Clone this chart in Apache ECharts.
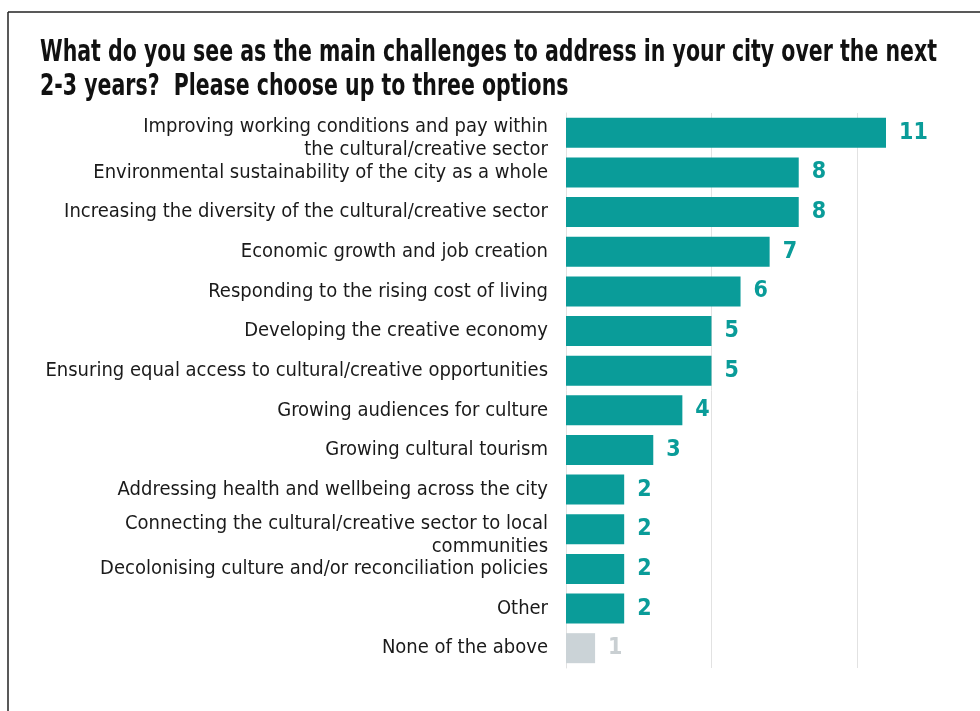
<!DOCTYPE html>
<html>
<head>
<meta charset="utf-8">
<script src="https://cdn.jsdelivr.net/npm/echarts@6/dist/echarts.min.js"></script>
<style>
  html, body { margin: 0; padding: 0; background: #ffffff; }
  #chart { width: 980px; height: 711px; }
</style>
</head>
<body>
<div id="chart"></div>
<script>
// Survey answers, top to bottom
const categories = [
  'Improving working conditions and pay within\nthe cultural/creative sector',
  'Environmental sustainability of the city as a whole',
  'Increasing the diversity of the cultural/creative sector',
  'Economic growth and job creation',
  'Responding to the rising cost of living',
  'Developing the creative economy',
  'Ensuring equal access to cultural/creative opportunities',
  'Growing audiences for culture',
  'Growing cultural tourism',
  'Addressing health and wellbeing across the city',
  'Connecting the cultural/creative sector to local\ncommunities',
  'Decolonising culture and/or reconciliation policies',
  'Other',
  'None of the above'
];
const responses = [11, 8, 8, 7, 6, 5, 5, 4, 3, 2, 2, 2, 2, 1];
// Answers drawn in the muted grey
const mutedCategories = ['None of the above'];
const gridValues = [5, 10];
const titleText = 'What do you see as the main challenges to address in your city over the next\n2-3 years?  Please choose up to three options';

const TEAL = '#0a9c99';
const GREY_BAR = '#cbd3d7';
const GREY_LABEL = '#c9cfd2';
const FONT = "'DejaVu Sans Condensed', 'Liberation Sans', sans-serif";

// Heading is set in a heavy face and squeezed horizontally to a condensed width
const TITLE_FONT = "bold 30px 'DejaVu Sans Condensed', 'Liberation Sans', sans-serif";
const TITLE_WIDTH = 897;
const measureCtx = document.createElement('canvas').getContext('2d');
measureCtx.font = TITLE_FONT;
const titleScale = TITLE_WIDTH / measureCtx.measureText(titleText.split('\n')[0]).width;

const chart = echarts.init(document.getElementById('chart'));

const barData = categories.map((c, i) => {
  const muted = mutedCategories.includes(c);
  return {
    value: responses[i],
    itemStyle: { color: muted ? GREY_BAR : TEAL },
    label: { color: muted ? GREY_LABEL : TEAL }
  };
});

// Labels use half-height rows: single lines stay centred on the bar,
// two-line answers get a spacer row on top and between lines so they
// sit a little below the bar centre with a full line of spacing.
const formatAxisLabel = (v) => v.includes('\n')
  ? '\n' + v.replace('\n', '\n\n')
  : v;

chart.setOption({
  animation: false,
  graphic: [
    { type: 'line', shape: { x1: 8, y1: 12, x2: 980, y2: 12 }, style: { stroke: '#222222', lineWidth: 1.5 } },
    { type: 'line', shape: { x1: 8, y1: 12, x2: 8, y2: 711 }, style: { stroke: '#222222', lineWidth: 1.5 } },
    {
      type: 'text',
      x: 40,
      y: 36,
      scaleX: titleScale,
      style: {
        text: titleText,
        font: TITLE_FONT,
        lineHeight: 34,
        fill: '#111111'
      }
    }
  ],
  grid: { left: 566, right: 94, top: 113, bottom: 43, containLabel: false },
  xAxis: {
    type: 'value',
    min: 0,
    max: 11,
    axisLine: { show: false },
    axisTick: { show: false },
    axisLabel: { show: false },
    splitLine: { show: false }
  },
  yAxis: {
    type: 'category',
    inverse: true,
    data: categories,
    axisLine: { show: true, lineStyle: { color: '#e2e2e2', width: 1 } },
    axisTick: { show: false },
    axisLabel: {
      interval: 0,
      showMinLabel: true,
      showMaxLabel: true,
      hideOverlap: false,
      margin: 18,
      fontFamily: FONT,
      fontSize: 20,
      lineHeight: 11.5,
      color: '#1a1a1a',
      align: 'right',
      formatter: formatAxisLabel
    }
  },
  series: [{
    type: 'bar',
    data: barData,
    barWidth: 30,
    z: 3,
    label: {
      show: true,
      position: 'right',
      distance: 13,
      fontFamily: FONT,
      fontWeight: 'bold',
      fontSize: 23
    },
    markLine: {
      silent: true,
      z: 1,
      symbol: 'none',
      label: { show: false },
      lineStyle: { color: '#e2e2e2', type: 'solid', width: 1 },
      data: gridValues.map(v => ({ xAxis: v }))
    }
  }]
});
</script>
</body>
</html>
